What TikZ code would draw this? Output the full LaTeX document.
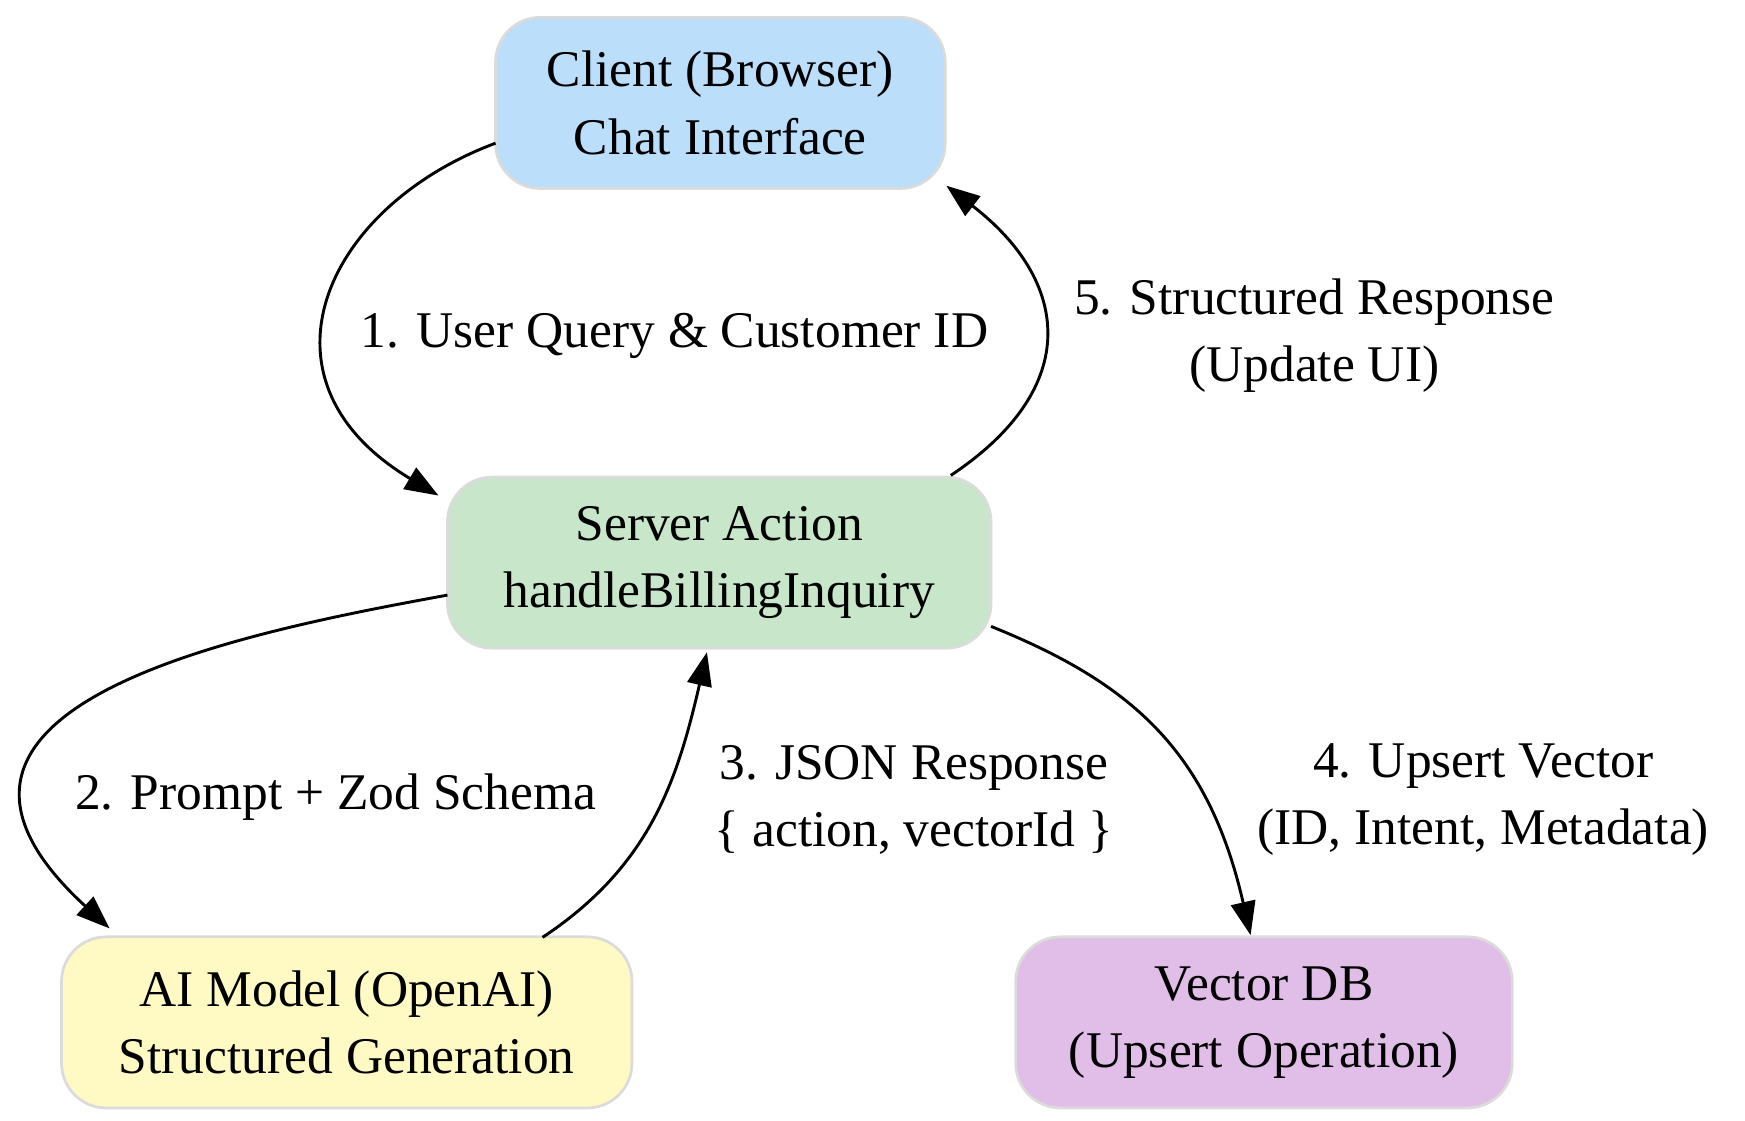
\documentclass[tikz,border=0pt]{standalone}
\usepackage{fontspec}
\setmainfont{Liberation Serif}
\usetikzlibrary{arrows.meta}
\begin{document}
\begin{tikzpicture}[x=0.5pt,y=-0.5pt,
  box/.style={draw=black!14,line width=1.2pt,rounded corners=20pt,align=center,inner sep=0pt,font=\fontsize{23}{30}\selectfont},
  lab/.style={align=center,font=\fontsize{23}{30}\selectfont},
  arr/.style={line width=1.3pt,-{Triangle[length=15pt,width=11pt]}}]
\useasboundingbox (0,0) rectangle (1560,1002);
\definecolor{cb}{HTML}{BBDEFB}\definecolor{cg}{HTML}{C8E6C9}
\definecolor{cy}{HTML}{FFF9C4}\definecolor{cp}{HTML}{E1BEE7}
\node[box,fill=cb,minimum width=201pt,minimum height=76.5pt] (client) at (644,92) {Client (Browser)\\Chat Interface};
\node[box,fill=cg,minimum width=243pt,minimum height=76.5pt] (server) at (643,503) {Server Action\\handleBillingInquiry};
\node[box,fill=cy,minimum width=255pt,minimum height=76.5pt] (ai) at (310,914) {AI Model (OpenAI)\\Structured Generation};
\node[box,fill=cp,minimum width=222pt,minimum height=76.5pt] (vdb) at (1130,914) {Vector DB\\(Upsert Operation)};
\coordinate (c1) at (443,128); \coordinate (s1) at (392,443);
\coordinate (s5) at (850,425); \coordinate (c5) at (846,166);
\coordinate (s2) at (400,532); \coordinate (a2) at (98,830);
\coordinate (a3) at (485,838); \coordinate (s3) at (632,583);
\coordinate (s4) at (886,560); \coordinate (v4) at (1118,836);
\draw[arr] (c1) .. controls (290,185) and (220,340) .. (s1);
\draw[arr] (s5) .. controls (970,345) and (955,250) .. (c5);
\draw[arr] (s2) .. controls (220,565) and (-120,630) .. (a2);
\draw[arr] (a3) .. controls (580,775) and (605,700) .. (s3);
\draw[arr] (s4) .. controls (1010,610) and (1080,670) .. (v4);
\node[lab] (l1) at (603,300) {1. User Query \& Customer ID};
\node[lab] (l5) at (1175,300) {5. Structured Response\\(Update UI)};
\node[lab] (l2) at (300,713) {2. Prompt + Zod Schema};
\node[lab] (l3) at (817,715) {3. JSON Response\\\{ action, vectorId \}};
\node[lab] (l4) at (1326,715) {4. Upsert Vector\\(ID, Intent, Metadata)};
\end{tikzpicture}
\end{document}
